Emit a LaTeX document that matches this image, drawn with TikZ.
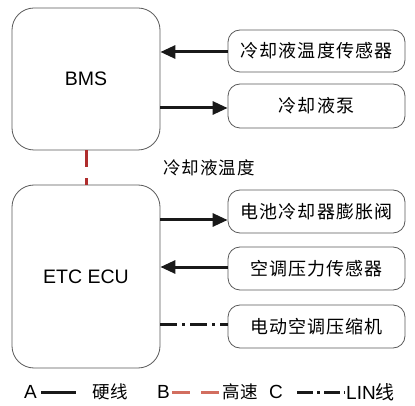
\documentclass[tikz,border=0pt]{standalone}
\usepackage{fontspec}
\setmainfont{Liberation Sans}
\newfontfamily\cjk[LetterSpace=6]{Noto Sans CJK SC}
\usetikzlibrary{arrows.meta,calc}
\definecolor{boxline}{RGB}{90,90,90}
\definecolor{hsred}{RGB}{175,45,45}
\definecolor{hsredl}{RGB}{210,110,95}
\begin{document}
\begin{tikzpicture}[x=1pt,y=-1pt,
  ecubox/.style={draw=boxline,line width=0.8pt,rounded corners=22pt,minimum width=148pt,inner sep=0pt,font=\fontsize{19.5}{22}\selectfont},
  devbox/.style={draw=boxline,line width=0.8pt,rounded corners=12pt,minimum width=177pt,inner sep=0pt,font=\cjk\fontsize{18}{20}\selectfont},
  hard/.style={line width=3pt,draw=black!90},
  arr/.style={hard,-{Triangle[length=15pt,width=13pt]}},
  lin/.style={line width=3pt,draw=black!90,dash pattern=on 17pt off 5pt on 3pt off 5pt},
  hispeed/.style={line width=3pt,draw=hsred,dash pattern=on 17pt off 11pt},
  lbl/.style={inner sep=0pt,font=\fontsize{19}{21}\selectfont},
  clbl/.style={inner sep=0pt,font=\cjk\fontsize{17.5}{19}\selectfont}]
\useasboundingbox[fill=white] (0,0) rectangle (415,406);
% main boxes
\node[ecubox,minimum height=142pt] (bms) at (86,79) {BMS};
\node[ecubox,minimum height=183pt] (ecu) at (86,276.5) {ETC ECU};
% device boxes
\node[devbox,minimum height=42pt] (r1) at (316.5,51) {冷却液温度传感器};
\node[devbox,minimum height=44pt] (r2) at (316.5,106) {冷却液泵};
\node[devbox,minimum height=43pt] (r3) at (316.5,211.5) {电池冷却器膨胀阀};
\node[devbox,minimum height=43pt] (r4) at (316.5,268.5) {空调压力传感器};
\node[devbox,minimum height=43pt] (r5) at (316.5,326.5) {电动空调压缩机};
% connectors
\draw[arr] ([yshift=-1pt]r1.west) -- ([yshift=-1pt]r1.west -| bms.east);
\draw[arr] ([yshift=-2pt]r2.west -| bms.east) -- ([yshift=-2pt]r2.west);
\draw[arr] ([yshift=-8.5pt]r3.west -| ecu.east) -- ([yshift=-8.5pt]r3.west);
\draw[arr] ([yshift=1.5pt]r4.west) -- ([yshift=1.5pt]r4.west -| ecu.east);
\draw[lin] ([yshift=2.5pt]r5.west -| ecu.east) -- ([yshift=2.5pt]r5.west);
\draw[hispeed] (bms.south) -- (ecu.north);
\node[clbl,anchor=west] (ct) at (163,168) {冷却液温度};
% legend
\node[lbl,anchor=west] (la) at (24,392) {A};
\coordinate (la1) at (41,392);
\coordinate (la2) at (76,392);
\draw[hard] (la1) -- (la2);
\node[clbl,anchor=west] (lat) at (92,392) {硬线};
\node[lbl,anchor=west] (lb) at (157,392) {B};
\coordinate (lb1) at (172,392);
\coordinate (lb2) at (219,392);
\draw[line width=3pt,draw=hsredl,dash pattern=on 18pt off 11pt] (lb1) -- (lb2);
\node[clbl,anchor=west] (lbt) at (222,392) {高速};
\node[lbl,anchor=west] (lc) at (269,392) {C};
\coordinate (lc1) at (297,392);
\coordinate (lc2) at (345,392);
\draw[line width=3pt,draw=black!90,dash pattern=on 16pt off 4pt on 3pt off 4pt] (lc1) -- (lc2);
\node[lbl,anchor=west] (lct) at (346,392) {LIN\cjk 线};
\end{tikzpicture}
\end{document}
